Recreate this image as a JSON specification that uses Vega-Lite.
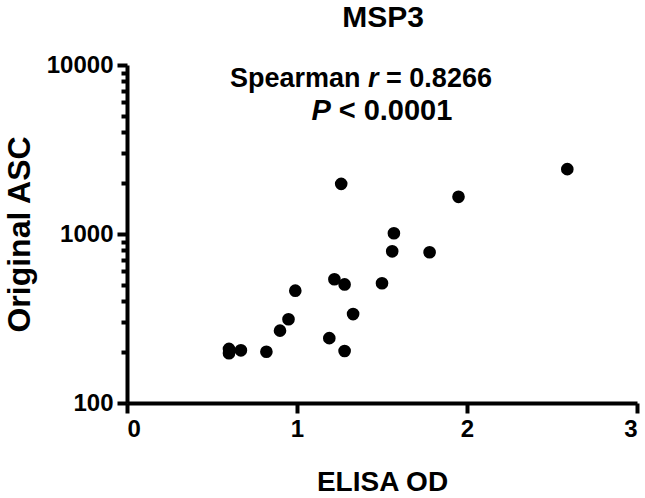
{
  "$schema": "https://vega.github.io/schema/vega-lite/v6.json",
  "width": 510,
  "height": 338,
  "autosize": "none",
  "padding": {"left": 127, "top": 65, "right": 8, "bottom": 95},
  "background": "white",
  "config": {
    "view": {"stroke": null},
    "font": "Liberation Sans",
    "axis": {
      "grid": false,
      "domainColor": "black",
      "domainWidth": 4,
      "tickColor": "black",
      "tickWidth": 4,
      "tickSize": 10,
      "labelColor": "black",
      "labelFont": "Liberation Sans",
      "labelFontWeight": "bold",
      "labelFontSize": 24,
      "titleColor": "black",
      "titleFont": "Liberation Sans",
      "titleFontWeight": "bold"
    }
  },
  "datasets": {
    "pts": [
      {"od": 2.59, "asc": 2420},
      {"od": 1.26, "asc": 1980},
      {"od": 1.95, "asc": 1660},
      {"od": 1.57, "asc": 1010},
      {"od": 1.56, "asc": 790},
      {"od": 1.78, "asc": 780},
      {"od": 1.22, "asc": 540},
      {"od": 1.28, "asc": 503},
      {"od": 1.50, "asc": 511},
      {"od": 0.99, "asc": 462},
      {"od": 1.33, "asc": 336},
      {"od": 0.95, "asc": 313},
      {"od": 0.90, "asc": 268},
      {"od": 1.19, "asc": 242},
      {"od": 1.28, "asc": 203},
      {"od": 0.82, "asc": 201},
      {"od": 0.67, "asc": 205},
      {"od": 0.60, "asc": 209},
      {"od": 0.60, "asc": 197}
    ],
    "titleText": [
      {"x": 1.506, "y": 16800, "t": "MSP3"}
    ],
    "normalText": [
      {"x": 0.606, "y": 7400, "t": "Spearman"},
      {"x": 1.524, "y": 7400, "t": "= 0.8266"}
    ],
    "italicText": [
      {"x": 1.418, "y": 7400, "t": "r"}
    ],
    "normalText2": [
      {"x": 1.245, "y": 4730, "t": "< 0.0001"}
    ],
    "italicText2": [
      {"x": 1.085, "y": 4730, "t": "P"}
    ]
  },
  "layer": [
    {
      "data": {"name": "pts"},
      "mark": {"type": "point", "filled": true, "color": "black", "opacity": 1, "size": 160, "shape": "circle"},
      "encoding": {
        "x": {
          "field": "od", "type": "quantitative",
          "scale": {"domain": [0, 3], "nice": false, "zero": false},
          "axis": {"values": [0, 1, 2, 3], "title": "ELISA OD", "titleFontSize": 28, "titlePadding": 27, "labelPadding": 4, "format": "d"}
        },
        "y": {
          "field": "asc", "type": "quantitative",
          "scale": {"type": "log", "domain": [100, 10000], "nice": false},
          "axis": {
            "values": [100, 200, 300, 400, 500, 600, 700, 800, 900, 1000, 2000, 3000, 4000, 5000, 6000, 7000, 8000, 9000, 10000],
            "labelExpr": "(datum.value == 100 || datum.value == 1000 || datum.value == 10000) ? datum.label : ''",
            "labelOverlap": false,
            "tickSize": {"condition": {"test": "datum.value == 100 || datum.value == 1000 || datum.value == 10000", "value": 10}, "value": 6},
            "title": "Original ASC", "titleFontSize": 32, "titlePadding": 10, "labelPadding": 4, "format": "d", "orient": "left"
          }
        }
      }
    },
    {
      "data": {"name": "titleText"},
      "mark": {"type": "text", "align": "center", "baseline": "alphabetic", "fontSize": 30, "fontWeight": "bold", "font": "Liberation Sans", "color": "black"},
      "encoding": {
        "x": {"field": "x", "type": "quantitative"},
        "y": {"field": "y", "type": "quantitative"},
        "text": {"field": "t"}
      }
    },
    {
      "data": {"name": "normalText"},
      "mark": {"type": "text", "align": "left", "baseline": "alphabetic", "fontSize": 27, "fontWeight": "bold", "font": "Liberation Sans", "color": "black"},
      "encoding": {
        "x": {"field": "x", "type": "quantitative"},
        "y": {"field": "y", "type": "quantitative"},
        "text": {"field": "t"}
      }
    },
    {
      "data": {"name": "italicText"},
      "mark": {"type": "text", "align": "left", "baseline": "alphabetic", "fontSize": 27, "fontWeight": "bold", "fontStyle": "italic", "font": "Liberation Sans", "color": "black"},
      "encoding": {
        "x": {"field": "x", "type": "quantitative"},
        "y": {"field": "y", "type": "quantitative"},
        "text": {"field": "t"}
      }
    },
    {
      "data": {"name": "normalText2"},
      "mark": {"type": "text", "align": "left", "baseline": "alphabetic", "fontSize": 29, "fontWeight": "bold", "font": "Liberation Sans", "color": "black"},
      "encoding": {
        "x": {"field": "x", "type": "quantitative"},
        "y": {"field": "y", "type": "quantitative"},
        "text": {"field": "t"}
      }
    },
    {
      "data": {"name": "italicText2"},
      "mark": {"type": "text", "align": "left", "baseline": "alphabetic", "fontSize": 29, "fontWeight": "bold", "fontStyle": "italic", "font": "Liberation Sans", "color": "black"},
      "encoding": {
        "x": {"field": "x", "type": "quantitative"},
        "y": {"field": "y", "type": "quantitative"},
        "text": {"field": "t"}
      }
    }
  ]
}
